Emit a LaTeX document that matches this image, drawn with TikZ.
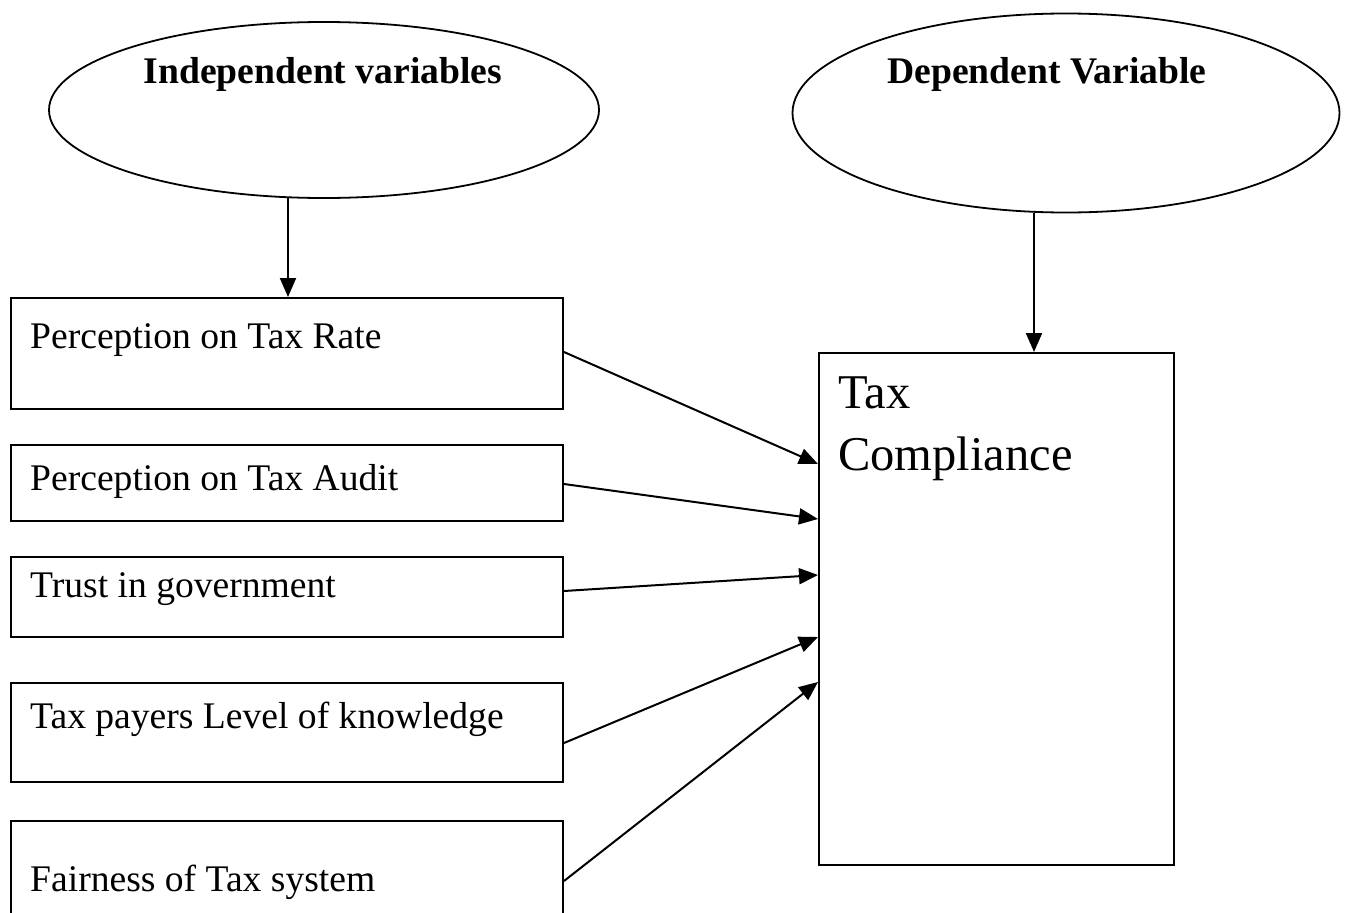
\documentclass[tikz,border=0pt]{standalone}
\usepackage{fontspec}
\setmainfont{Liberation Serif}
\usetikzlibrary{arrows.meta,shapes.geometric,calc}
\begin{document}
\begin{tikzpicture}[x=1pt,y=-1pt,
  oval/.style={draw,ellipse,line width=1.8pt,inner sep=0pt},
  vbox/.style={draw,rectangle,line width=2pt,anchor=north west,inner sep=0pt},
  lbl/.style={anchor=base west,inner sep=0pt,font=\fontsize{37.6}{44}\selectfont},
  head/.style={anchor=base,inner sep=0pt,font=\fontsize{37.6}{44}\selectfont\bfseries},
  arr/.style={line width=2pt,-{Triangle[length=19pt,width=16pt]}}]
\clip (0,0) rectangle (1345,913);
\fill[white] (0,0) rectangle (1345,913);

% ellipses
\node[oval,minimum width=550pt,minimum height=176pt] (e1) at (324,110) {};
\node[oval,minimum width=547pt,minimum height=199pt] (e2) at (1066,113) {};
\node[head] (h1) at (323,83) {Independent variables};
\node[head] (h2) at (1047,83) {Dependent Variable};

% left boxes
\node[vbox,minimum width=552pt,minimum height=111pt] (r1) at (10,297) {};
\node[vbox,minimum width=552pt,minimum height=76pt] (r2) at (10,444) {};
\node[vbox,minimum width=552pt,minimum height=80pt] (r3) at (10,556) {};
\node[vbox,minimum width=552pt,minimum height=99pt] (r4) at (10,682) {};
\node[vbox,minimum width=552pt,minimum height=120pt] (r5) at (10,820) {};

\node[lbl] (t1) at (30,348) {Perception on Tax Rate};
\node[lbl] (t2) at (30,490) {Perception on Tax Audit};
\node[lbl] (t3) at (30,597) {Trust in government};
\node[lbl] (t4) at (30,728) {Tax payers Level of knowledge};
\node[lbl] (t5) at (30,891) {Fairness of Tax system};

% dependent box
\node[vbox,minimum width=355pt,minimum height=512pt] (tc) at (818,352) {};
\node[anchor=north west,inner sep=0pt,align=left,font=\fontsize{48.5}{62}\selectfont] (tct) at (838,377) {Tax\\Compliance};

% vertical arrows
\coordinate (a1) at (288,198);
\draw[arr] (a1) -- (a1 |- r1.north);
\coordinate (a2) at (1034,213);
\draw[arr] (a2) -- (a2 |- tc.north);

% arrows into Tax Compliance
\draw[arr] ($(r1.north east)+(0,55)$) -- ($(tc.north west)+(0,112)$);
\draw[arr] ($(r2.north east)+(0,40)$) -- ($(tc.north west)+(0,167)$);
\draw[arr] ($(r3.north east)+(0,35)$) -- ($(tc.north west)+(0,223)$);
\draw[arr] ($(r4.north east)+(0,61)$) -- ($(tc.north west)+(0,285)$);
\draw[arr] ($(r5.north east)+(0,61)$) -- ($(tc.north west)+(0,330)$);
\end{tikzpicture}
\end{document}
